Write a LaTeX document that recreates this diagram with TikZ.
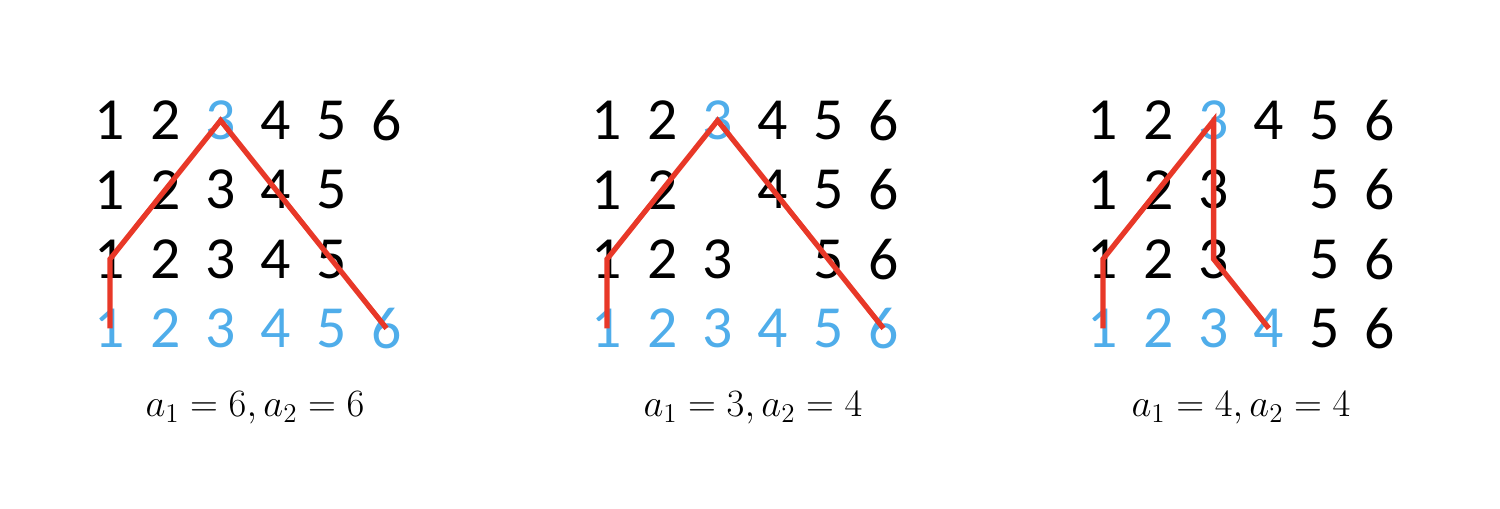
\documentclass[tikz,border=0pt]{standalone}
\usepackage{fix-cm}
\usepackage{fontspec}
\setmainfont{Carlito}
\usepackage{tikz}
\usetikzlibrary{positioning}

\definecolor{digblue}{RGB}{79,173,234}
\definecolor{pathred}{RGB}{232,56,40}

% one row of digits: panel, row, x of first column, entries col/style
\newcommand{\digitrow}[4]{%
  \foreach \c/\s in {#4}
    \node[\s] (#1-#2-\c) at ({#3+(\c-1)*55.3},{120.5+(#2-1)*69.3}) {\c};}

\begin{document}
\begin{tikzpicture}[x=0.02cm,y=-0.02cm,
  every node/.style={inner sep=0pt,font=\fontsize{34}{38}\selectfont},
  blk/.style={text=black},
  blu/.style={text=digblue},
  route/.style={draw=pathred,line width=3pt},
  caption/.style={font=\fontsize{22}{26}\selectfont}]
\useasboundingbox (0,0) rectangle (1500,508);
% left panel
\digitrow{a}{1}{110}{1/blk,2/blk,3/blu,4/blk,5/blk,6/blk}
\digitrow{a}{2}{110}{1/blk,2/blk,3/blk,4/blk,5/blk}
\digitrow{a}{3}{110}{1/blk,2/blk,3/blk,4/blk,5/blk}
\digitrow{a}{4}{110}{1/blu,2/blu,3/blu,4/blu,5/blu,6/blu}
\draw[route] (a-4-1.center) -- (a-3-1.center) -- (a-1-3.center) -- (a-4-6.center);
\node[caption] (capa) at (255,408) {$a_1=6, a_2=6$};
% middle panel
\digitrow{b}{1}{607}{1/blk,2/blk,3/blu,4/blk,5/blk,6/blk}
\digitrow{b}{2}{607}{1/blk,2/blk,4/blk,5/blk,6/blk}
\digitrow{b}{3}{607}{1/blk,2/blk,3/blk,5/blk,6/blk}
\digitrow{b}{4}{607}{1/blu,2/blu,3/blu,4/blu,5/blu,6/blu}
\draw[route] (b-4-1.center) -- (b-3-1.center) -- (b-1-3.center) -- (b-4-6.center);
\node[caption] (capb) at (753,408) {$a_1=3, a_2=4$};
% right panel
\digitrow{c}{1}{1103}{1/blk,2/blk,3/blu,4/blk,5/blk,6/blk}
\digitrow{c}{2}{1103}{1/blk,2/blk,3/blk,5/blk,6/blk}
\digitrow{c}{3}{1103}{1/blk,2/blk,3/blk,5/blk,6/blk}
\digitrow{c}{4}{1103}{1/blu,2/blu,3/blu,4/blu,5/blk,6/blk}
\draw[route] (c-4-1.center) -- (c-3-1.center) -- (c-1-3.center) -- (c-3-3.center) -- (c-4-4.center);
\node[caption] (capc) at (1241,408) {$a_1=4, a_2=4$};
\end{tikzpicture}
\end{document}
